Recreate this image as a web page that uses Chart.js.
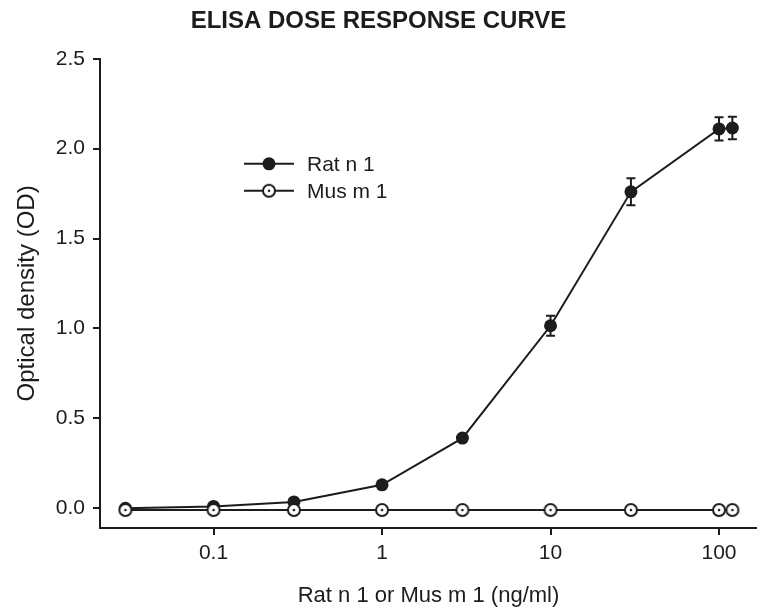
<!DOCTYPE html>
<html>
<head>
<meta charset="utf-8">
<script src="https://cdn.jsdelivr.net/npm/chart.js@4"></script>
<style>
  html, body { margin: 0; padding: 0; background: #fff; }
  #wrap { width: 757px; height: 609px; }
</style>
</head>
<body>
<div id="wrap"><canvas id="chart"></canvas></div>
<script>
const doses = [0.03, 0.1, 0.3, 1, 3, 10, 30, 100, 120];
const ratValues = [0.0, 0.01, 0.035, 0.13, 0.39, 1.015, 1.76, 2.11, 2.115];
const ratErrors = [0, 0, 0, 0, 0, 0.055, 0.075, 0.065, 0.062];
const musValues = [-0.01, -0.01, -0.01, -0.01, -0.01, -0.01, -0.01, -0.01, -0.01];
const xTicks = [0.1, 1, 10, 100];
const yTicks = [0, 0.5, 1.0, 1.5, 2.0, 2.5];

const INK = '#1c1c1c';
const FONT = "'Liberation Sans', Arial, sans-serif";

// open circle with a dot in the middle
function openDot() {
  const c = document.createElement('canvas');
  c.width = 16; c.height = 16;
  const g = c.getContext('2d');
  g.beginPath();
  g.arc(8, 8, 6, 0, Math.PI * 2);
  g.fillStyle = '#fff';
  g.fill();
  g.lineWidth = 2;
  g.strokeStyle = INK;
  g.stroke();
  g.beginPath();
  g.arc(8, 8, 1.3, 0, Math.PI * 2);
  g.fillStyle = INK;
  g.fill();
  return c;
}
const musStyle = openDot();

const errorBars = {
  id: 'errorBars',
  afterDatasetsDraw(chart) {
    const {ctx, scales: {x, y}} = chart;
    ctx.save();
    ctx.strokeStyle = INK;
    ctx.lineWidth = 2;
    doses.forEach((d, i) => {
      const e = ratErrors[i];
      if (!e) return;
      const px = x.getPixelForValue(d);
      const top = y.getPixelForValue(ratValues[i] + e);
      const bot = y.getPixelForValue(ratValues[i] - e);
      ctx.beginPath();
      ctx.moveTo(px, top); ctx.lineTo(px, bot);
      ctx.moveTo(px - 4.5, top); ctx.lineTo(px + 4.5, top);
      ctx.moveTo(px - 4.5, bot); ctx.lineTo(px + 4.5, bot);
      ctx.stroke();
    });
    ctx.restore();
  }
};

const lineLegend = {
  id: 'lineLegend',
  afterDraw(chart) {
    const {ctx, chartArea} = chart;
    const x0 = chartArea.left + 144;
    const y0 = chartArea.top + 105;
    ctx.save();
    ctx.font = '21px ' + FONT;
    ctx.textBaseline = 'middle';
    ctx.fillStyle = INK;
    chart.data.datasets.forEach((ds, i) => {
      const yy = y0 + i * 27;
      ctx.strokeStyle = INK;
      ctx.lineWidth = 2;
      ctx.beginPath();
      ctx.moveTo(x0, yy); ctx.lineTo(x0 + 50, yy);
      ctx.stroke();
      if (ds.pointStyle === 'circle') {
        ctx.beginPath();
        ctx.arc(x0 + 25, yy, 6.5, 0, Math.PI * 2);
        ctx.fillStyle = INK;
        ctx.fill();
      } else {
        ctx.drawImage(ds.pointStyle, x0 + 25 - 8, yy - 8);
      }
      ctx.fillStyle = INK;
      ctx.fillText(ds.label, x0 + 63, yy + 1);
    });
    ctx.restore();
  }
};

new Chart(document.getElementById('chart'), {
  type: 'line',
  data: {
    datasets: [
      {
        label: 'Rat n 1',
        data: doses.map((d, i) => ({x: d, y: ratValues[i]})),
        borderColor: INK,
        borderWidth: 2,
        backgroundColor: INK,
        pointStyle: 'circle',
        pointRadius: 6.5,
        pointBorderWidth: 0,
        pointBackgroundColor: INK,
        tension: 0,
        clip: false,
        order: 1
      },
      {
        label: 'Mus m 1',
        data: doses.map((d, i) => ({x: d, y: musValues[i]})),
        borderColor: INK,
        borderWidth: 2,
        pointStyle: musStyle,
        pointRadius: 8,
        tension: 0,
        clip: false,
        order: 0
      }
    ]
  },
  options: {
    responsive: true,
    maintainAspectRatio: false,
    animation: false,
    layout: { padding: 0, autoPadding: false },
    plugins: {
      legend: { display: false },
      tooltip: { enabled: false },
      title: {
        display: true,
        text: 'ELISA DOSE RESPONSE CURVE',
        color: INK,
        font: { family: FONT, size: 24, weight: 'bold' },
        padding: { top: 7, bottom: 23 }
      }
    },
    scales: {
      x: {
        type: 'logarithmic',
        min: 0.0212,
        max: 168,
        afterBuildTicks: (s) => { s.ticks = xTicks.map(v => ({value: v})); },
        afterFit: (s) => { s.height = 81; },
        ticks: {
          color: INK,
          font: { family: FONT, size: 21 },
          padding: 6,
          maxRotation: 0,
          autoSkip: false,
          callback: (v) => String(v)
        },
        grid: { display: true, drawOnChartArea: false, drawTicks: true, tickLength: 7, color: INK, lineWidth: 2 },
        border: { display: true, color: INK, width: 2 },
        title: {
          display: true,
          text: 'Rat n 1 or Mus m 1 (ng/ml)',
          color: INK,
          font: { family: FONT, size: 22 },
          padding: { top: 0, bottom: 0 }
        }
      },
      y: {
        min: -0.11,
        max: 2.5,
        afterBuildTicks: (s) => { s.ticks = yTicks.map(v => ({value: v})); },
        afterFit: (s) => { s.width = 100; },
        ticks: {
          color: INK,
          font: { family: FONT, size: 21 },
          padding: 8,
          callback: (v) => Number(v).toFixed(1)
        },
        grid: { display: true, drawOnChartArea: false, drawTicks: true, tickLength: 7, color: INK, lineWidth: 2 },
        border: { display: true, color: INK, width: 2 },
        title: {
          display: true,
          text: 'Optical density (OD)',
          color: INK,
          font: { family: FONT, size: 24 },
          padding: { top: 13, bottom: 0 }
        }
      }
    }
  },
  plugins: [errorBars, lineLegend]
});
</script>
</body>
</html>
